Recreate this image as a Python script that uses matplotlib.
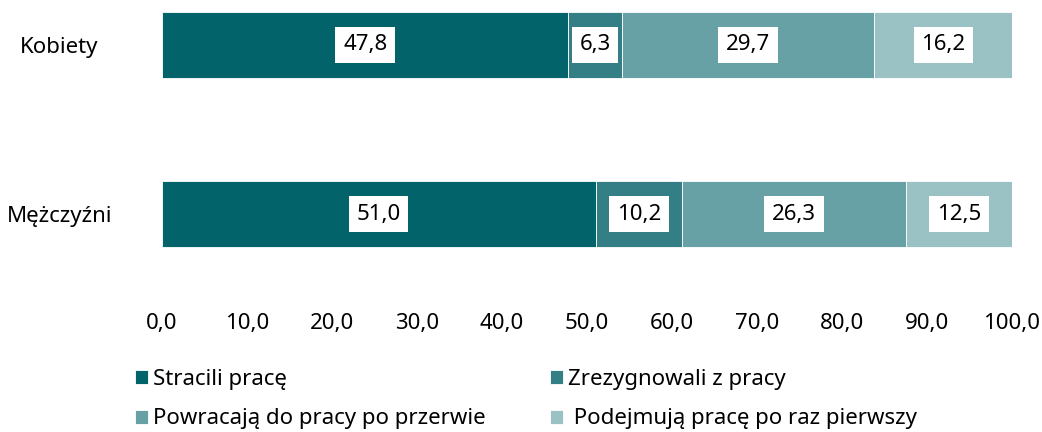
import numpy as np
import matplotlib.pyplot as plt

plt.rcParams['font.family'] = ['Noto Sans', 'DejaVu Sans']

# data
groups = ['Kobiety', 'Mężczyźni']
series = ['Stracili pracę', 'Zrezygnowali z pracy',
          'Powracają do pracy po przerwie', ' Podejmują pracę po raz pierwszy']
values = [
    [47.8, 51.0],
    [6.3, 10.2],
    [29.7, 26.3],
    [16.2, 12.5],
]
xticks = [0, 10, 20, 30, 40, 50, 60, 70, 80, 90, 100]
colors = ['#02636a', '#337f85', '#67a1a5', '#9ac1c4']

fig = plt.figure(figsize=(10.42, 4.32), dpi=100)
ax = fig.add_axes([162 / 1042, 1 - 305 / 432, 850 / 1042, 305 / 432])

y = np.arange(len(groups))
left = np.zeros(len(groups))
handles = []
for name, vals, c in zip(series, values, colors):
    bars = ax.barh(y, vals, left=left, height=0.39, color=c,
                   edgecolor='white', linewidth=0.6, label=name)
    ax.bar_label(bars, labels=[f'{v:.1f}'.replace('.', ',') for v in vals],
                 label_type='center', fontsize=16, color='black',
                 bbox=dict(facecolor='white', edgecolor='none', pad=5.5))
    handles.append(bars)
    left += np.array(vals)

ax.set_xlim(0, 100)
ax.set_ylim(1.538, -0.266)
ax.set_xticks(xticks)
ax.set_xticklabels([f'{t:.1f}'.replace('.', ',') for t in xticks], fontsize=16)
ax.set_yticks(y)
ax.set_yticklabels(groups, fontsize=16, ha='center')
ax.tick_params(axis='x', length=0, pad=6)
ax.tick_params(axis='y', length=0, pad=74)
for s in ax.spines.values():
    s.set_visible(False)

# legend: column-wise order so rows read like the original
order = [0, 2, 1, 3]
fig.legend([handles[i] for i in order], [series[i] for i in order],
           ncol=2, loc='upper left', bbox_to_anchor=(135 / 1042, 1 - 369 / 432),
           frameon=False, fontsize=16, handlelength=0.6, handleheight=0.6,
           handletextpad=0.2, columnspacing=2.9, labelspacing=0.83,
           borderpad=0, borderaxespad=0)

plt.savefig('out.png', dpi=100)
